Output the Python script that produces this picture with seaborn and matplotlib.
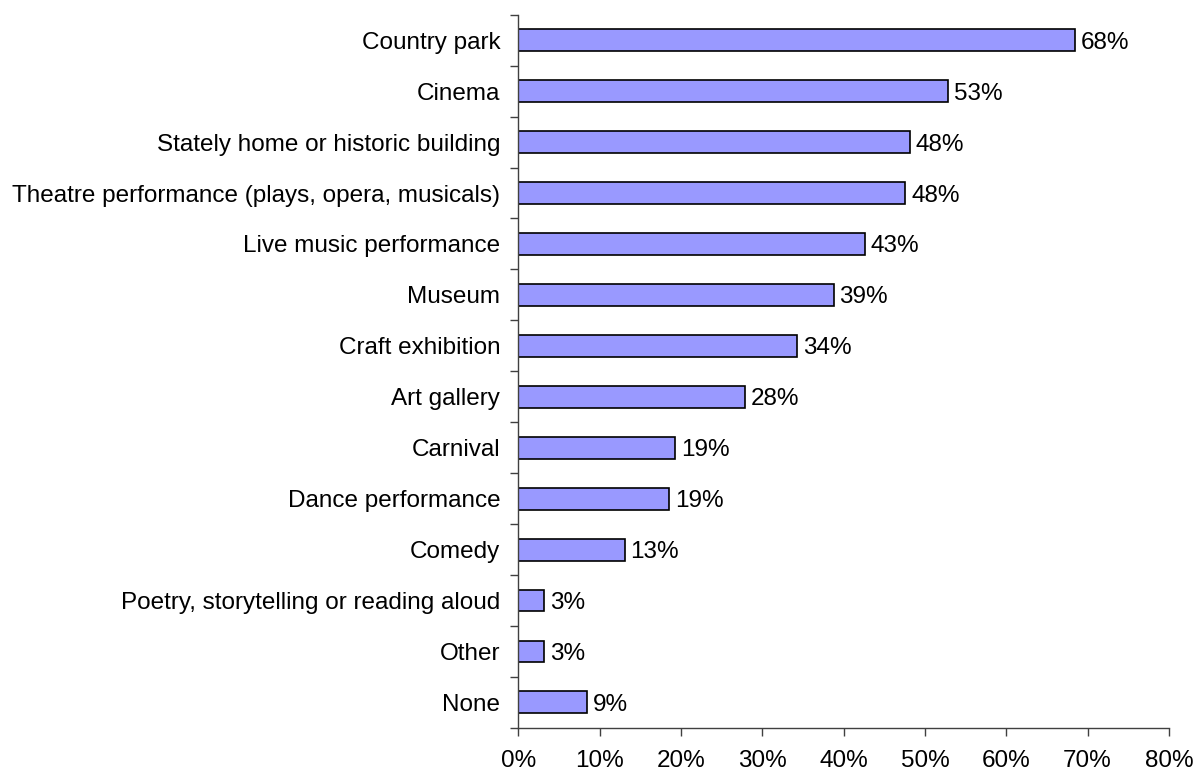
import matplotlib
matplotlib.use('Agg')
import matplotlib.pyplot as plt
import pandas as pd
import seaborn as sns
from matplotlib.ticker import FixedLocator, PercentFormatter

sns.set_style('white')
plt.rcParams['font.family'] = ['Liberation Sans', 'DejaVu Sans']
plt.rcParams.update({'text.color': 'black', 'xtick.color': 'black', 'ytick.color': 'black'})

# Activities and share of respondents (%)
activities = ['Country park', 'Cinema', 'Stately home or historic building',
              'Theatre performance (plays, opera, musicals)', 'Live music performance',
              'Museum', 'Craft exhibition', 'Art gallery', 'Carnival',
              'Dance performance', 'Comedy', 'Poetry, storytelling or reading aloud',
              'Other', 'None']
values = [68.5, 52.9, 48.2, 47.6, 42.6, 38.8, 34.3, 27.9, 19.3, 18.6, 13.1, 3.2, 3.2, 8.5]
labels = ['68%', '53%', '48%', '48%', '43%', '39%', '34%', '28%', '19%',
          '19%', '13%', '3%', '3%', '9%']

df = pd.DataFrame({'activity': activities, 'pct': values})

fig = plt.figure(figsize=(11.94, 7.76), dpi=100)
ax = fig.add_axes([0.434, 0.062, 0.545, 0.919])

sns.barplot(data=df, x='pct', y='activity', orient='h', color='#9999FF',
            edgecolor='black', linewidth=1.2, width=0.43, saturation=1, ax=ax)

for bar, lab in zip(ax.patches, labels):
    ax.text(bar.get_width() + 0.7, bar.get_y() + bar.get_height() / 2, lab,
            va='center_baseline', ha='left', fontsize=17.5)

ax.set_xlim(0, 80)
ax.set_ylim(len(activities) - 0.5, -0.5)
ax.set_xticks(range(0, 81, 10))
ax.xaxis.set_major_formatter(PercentFormatter(decimals=0))
ax.set_xlabel('')
ax.set_ylabel('')

# category boundaries get the tick marks, labels stay centred
ax.yaxis.set_minor_locator(FixedLocator([i - 0.5 for i in range(len(activities) + 1)]))
ax.tick_params(axis='y', which='major', length=0, labelsize=17.5, pad=13)
ax.tick_params(axis='y', which='minor', length=6, width=1, color='#404040', direction='out', left=True)
ax.tick_params(axis='x', length=6, width=1, color='#404040', direction='out', labelsize=17.5, pad=10, bottom=True)

for side in ['top', 'right']:
    ax.spines[side].set_visible(False)
for side in ['left', 'bottom']:
    ax.spines[side].set_color('#404040')
    ax.spines[side].set_linewidth(1)

fig.savefig('out.png', dpi=100)
